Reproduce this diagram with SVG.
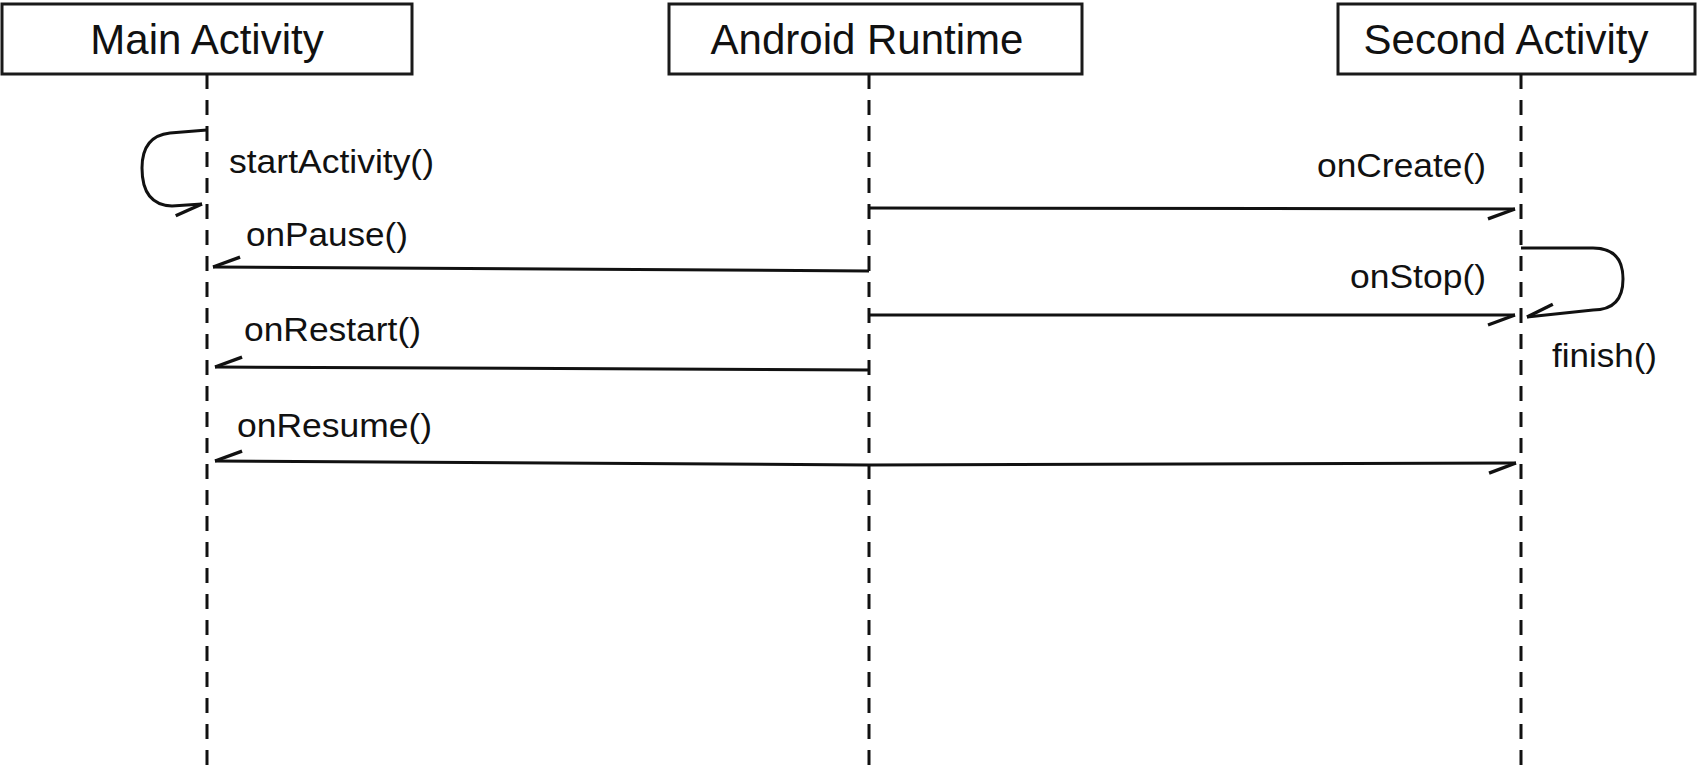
<svg xmlns="http://www.w3.org/2000/svg" width="1700" height="771" viewBox="0 0 1700 771">
  <style>
    .box { fill: #ffffff; stroke: #1a1a1a; stroke-width: 3; }
    .head { font-family: "Liberation Sans", Arial, sans-serif; font-size: 42px; fill: #111; text-anchor: middle; }
    .life { stroke: #111; stroke-width: 3; stroke-dasharray: 15 11; fill: none; }
    .msg { stroke: #111; stroke-width: 3; fill: none; marker-end: url(#half); }
    .lbl { font-family: "Liberation Sans", Arial, sans-serif; font-size: 33px; fill: #111; }
  </style>
  <defs>
    <marker id="half" markerUnits="userSpaceOnUse" markerWidth="60" markerHeight="60" refX="0" refY="0" orient="auto" overflow="visible">
      <path d="M0,0 L-27,10" stroke="#111" stroke-width="3.4" fill="none" stroke-linecap="butt"/>
    </marker>
  </defs>
  <rect width="1700" height="771" fill="#ffffff"/>

  <g id="main-activity">
    <rect class="box" x="2" y="4" width="410" height="70"/>
    <text class="head" x="207" y="54">Main Activity</text>
    <line class="life" x1="207" y1="74" x2="207" y2="771"/>
  </g>
  <g id="android-runtime">
    <rect class="box" x="669" y="4" width="413" height="70"/>
    <text class="head" x="867" y="54">Android Runtime</text>
    <line class="life" x1="869" y1="74" x2="869" y2="771"/>
  </g>
  <g id="second-activity">
    <rect class="box" x="1338" y="4" width="357" height="70"/>
    <text class="head" x="1506" y="54">Second Activity</text>
    <line class="life" x1="1521" y1="74" x2="1521" y2="771"/>
  </g>

  <g id="connectors">
    <path class="msg" d="M207,130 L170,133 Q142,136 142,168 Q142,205 172,206 L202,204"/>
    <path class="msg" d="M869,208 L1515,209"/>
    <path class="msg" d="M869,271 L213,267"/>
    <path class="msg" d="M1521,248 L1593,248 Q1623,248 1623,279 Q1623,310 1593,310 L1527,317"/>
    <path class="msg" d="M869,315 L1515,315"/>
    <path class="msg" d="M869,370 L215,367"/>
    <path class="msg" d="M869,465 L215,461"/>
    <path class="msg" d="M869,465 L1516,463"/>
  </g>

  <g id="labels">
    <text class="lbl" x="229" y="173" textLength="205" lengthAdjust="spacingAndGlyphs">startActivity()</text>
    <text class="lbl" x="1317" y="177" textLength="169" lengthAdjust="spacingAndGlyphs">onCreate()</text>
    <text class="lbl" x="246" y="246" textLength="162" lengthAdjust="spacingAndGlyphs">onPause()</text>
    <text class="lbl" x="1350" y="288" textLength="136" lengthAdjust="spacingAndGlyphs">onStop()</text>
    <text class="lbl" x="244" y="341" textLength="177" lengthAdjust="spacingAndGlyphs">onRestart()</text>
    <text class="lbl" x="1552" y="367" textLength="105" lengthAdjust="spacingAndGlyphs">finish()</text>
    <text class="lbl" x="237" y="437" textLength="195" lengthAdjust="spacingAndGlyphs">onResume()</text>
  </g>
</svg>
